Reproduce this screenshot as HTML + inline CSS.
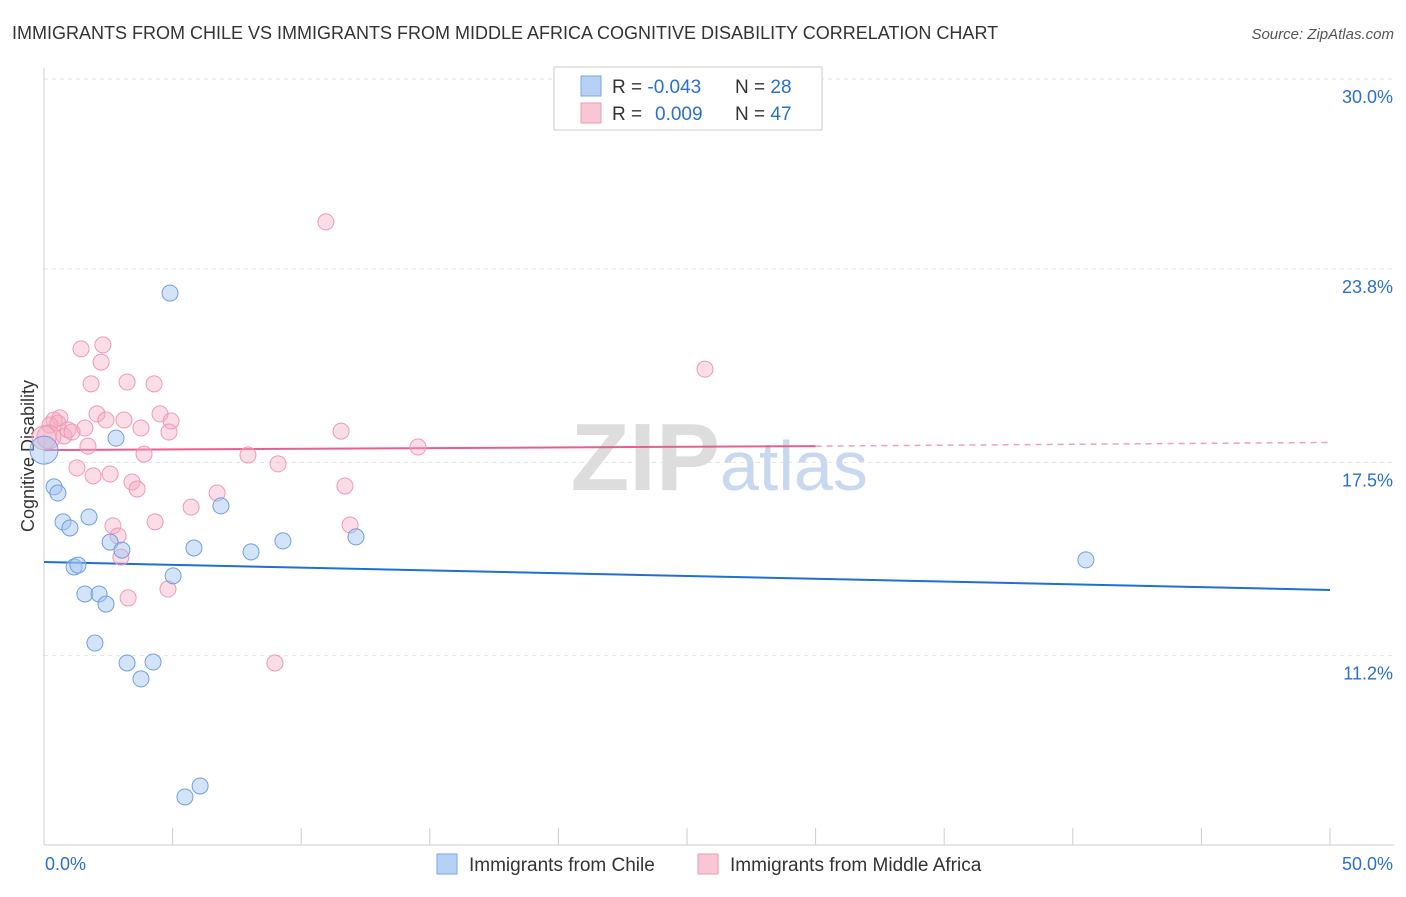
<!DOCTYPE html>
<html><head><meta charset="utf-8"><style>
body{margin:0;background:#fff;font-family:"Liberation Sans",sans-serif}
svg text{font-family:"Liberation Sans",sans-serif}
</style></head><body>
<svg width="1406" height="892" viewBox="0 0 1406 892">
<text x="12" y="39" font-size="18" fill="#333">IMMIGRANTS FROM CHILE VS IMMIGRANTS FROM MIDDLE AFRICA COGNITIVE DISABILITY CORRELATION CHART</text>
<text x="1394" y="39" font-size="15" fill="#555" font-style="italic" text-anchor="end">Source: ZipAtlas.com</text>
<g id="grid"></g>
<text x="720" y="490" font-size="96" fill="#ddd" font-family="Liberation Serif" text-anchor="end" font-weight="bold">ZIP</text>
<text x="720" y="490" font-size="70" fill="#c8d8ee">atlas</text>
<text x="34" y="456" font-size="18" fill="#333" transform="rotate(-90 34 456)" text-anchor="middle">Cognitive Disability</text>
<g id="lines"></g>
<g id="points"></g>
<g>
<rect x="554" y="67" width="268" height="63" fill="#fff" stroke="#ccc"/>
<rect x="581" y="76" width="20" height="20" fill="#b7d0f5" stroke="#7aa6e6"/>
<rect x="581" y="103" width="20" height="20" fill="#f9c6d5" stroke="#ee9ab3"/>
<text x="612" y="93" font-size="19" fill="#333">R = <tspan fill="#2a6fd0">-0.043</tspan><tspan x="735">N = </tspan><tspan fill="#2a6fd0">28</tspan></text>
<text x="612" y="120" font-size="19" fill="#333">R = <tspan x="655" fill="#2a6fd0">0.009</tspan><tspan x="735">N = </tspan><tspan fill="#2a6fd0">47</tspan></text>
</g>
<g>
<rect x="437" y="854" width="20" height="20" fill="#b7d0f5" stroke="#7aa6e6"/>
<text x="469" y="871" font-size="19" fill="#333">Immigrants from Chile</text>
<rect x="698" y="854" width="20" height="20" fill="#f9c6d5" stroke="#ee9ab3"/>
<text x="730" y="871" font-size="19" fill="#333">Immigrants from Middle Africa</text>
</g>
</svg>
<script>
const yTicks=[30.0,23.8,17.5,11.2];
const yTickLabels=["30.0%","23.8%","17.5%","11.2%"];
const xTickLabels=["0.0%","50.0%"];
const chileX=[0,0.39,0.54,0.74,1.01,1.75,2.80,4.90,2.57,3.03,1.17,1.32,1.59,2.14,2.41,1.98,3.23,4.24,3.77,5.83,6.88,8.05,9.29,12.13,5.02,5.48,6.07,40.51];
const chileY=[17.90,16.70,16.50,15.56,15.36,15.72,18.29,23.02,14.90,14.64,14.09,14.15,13.21,13.21,12.88,11.61,10.96,10.99,10.44,14.71,16.08,14.58,14.94,15.07,13.80,6.59,6.95,14.32];
const afrX=[10.96,25.70,1.44,2.29,2.22,1.83,3.23,4.28,0.39,0.62,0.23,0.54,0.78,0.93,1.09,1.59,1.71,2.06,2.41,3.11,3.77,4.51,4.94,4.86,3.89,1.28,1.91,2.57,3.42,3.62,5.72,6.73,7.93,9.10,11.55,14.54,11.70,11.90,2.68,2.88,4.32,2.99,4.82,3.27,8.98,0.19,0];
const afrY=[25.34,20.54,21.20,21.33,20.77,20.06,20.12,20.06,18.88,18.95,18.72,18.78,18.36,18.56,18.49,18.62,18.03,19.08,18.88,18.88,18.62,19.08,18.85,18.49,17.77,17.32,17.06,17.12,16.86,16.63,16.04,16.50,17.74,17.45,18.52,18.00,16.73,15.46,15.43,15.10,15.56,14.41,13.37,13.08,10.96,18.33,18.3];
const chileTrend=[14.25,13.34];
const afrTrend=[17.90,18.03,18.15];
const NS="http://www.w3.org/2000/svg";
const X=v=>44+v*25.72, Y=v=>79+(30-v)*30.67;
function mk(t,a,p){const e=document.createElementNS(NS,t);for(const k in a)e.setAttribute(k,a[k]);p.appendChild(e);return e;}
const grid=document.getElementById('grid');
yTicks.forEach((v,i)=>{
 const l=mk('line',{x1:44,x2:1394,y1:Y(v),y2:Y(v),stroke:'#e3e3e3','stroke-dasharray':'4 4'},grid);
 
 
 const t=mk('text',{x:1393,y:Y(v)+24,'font-size':18,fill:'#2a6fd0','text-anchor':'end'},grid);t.textContent=yTickLabels[i];
 
 
});
const ax=mk('line',{x1:44,x2:44,y1:68,y2:845,stroke:'#ccc'},grid);


const bx=mk('line',{x1:44,x2:1394,y1:845,y2:845,stroke:'#ccc'},grid);


for(let i=0;i<=10;i++){const tk=mk('line',{x1:X(i*5),x2:X(i*5),y1:828,y2:845,stroke:'#ccc'},grid);
 
 }
[[0,'start',45],[50,'end',1393]].forEach((a,i)=>{const t=mk('text',{x:a[2],y:870,'font-size':18,fill:'#2a6fd0','text-anchor':a[1]},grid);t.textContent=xTickLabels[i];
 
 });
const pts=document.getElementById('points');
afrX.forEach((x,i)=>{const c=mk('circle',{cx:X(x),cy:Y(afrY[i]),r:i>=45?12:8,fill:'rgba(245,170,195,0.4)',stroke:'#ee9ab3','stroke-width':1},pts);
 
 });
chileX.forEach((x,i)=>{const c=mk('circle',{cx:X(x),cy:Y(chileY[i]),r:i==0?14:8,fill:'rgba(160,195,240,0.45)',stroke:'#6f9fe0','stroke-width':1},pts);
 
 });
const ln=document.getElementById('lines');
const b=mk('line',{x1:X(0),x2:X(50),y1:Y(chileTrend[0]),y2:Y(chileTrend[1]),stroke:'#1f6fd6','stroke-width':2},ln);


const p1=mk('line',{x1:X(0),x2:X(30),y1:Y(afrTrend[0]),y2:Y(afrTrend[1]),stroke:'#e8608a','stroke-width':2},ln);


const p2=mk('line',{x1:X(30),x2:X(50),y1:Y(afrTrend[1]),y2:Y(afrTrend[2]),stroke:'#f0a0b8','stroke-width':1.5,'stroke-dasharray':'6 5'},ln);


</script>
</body></html>
